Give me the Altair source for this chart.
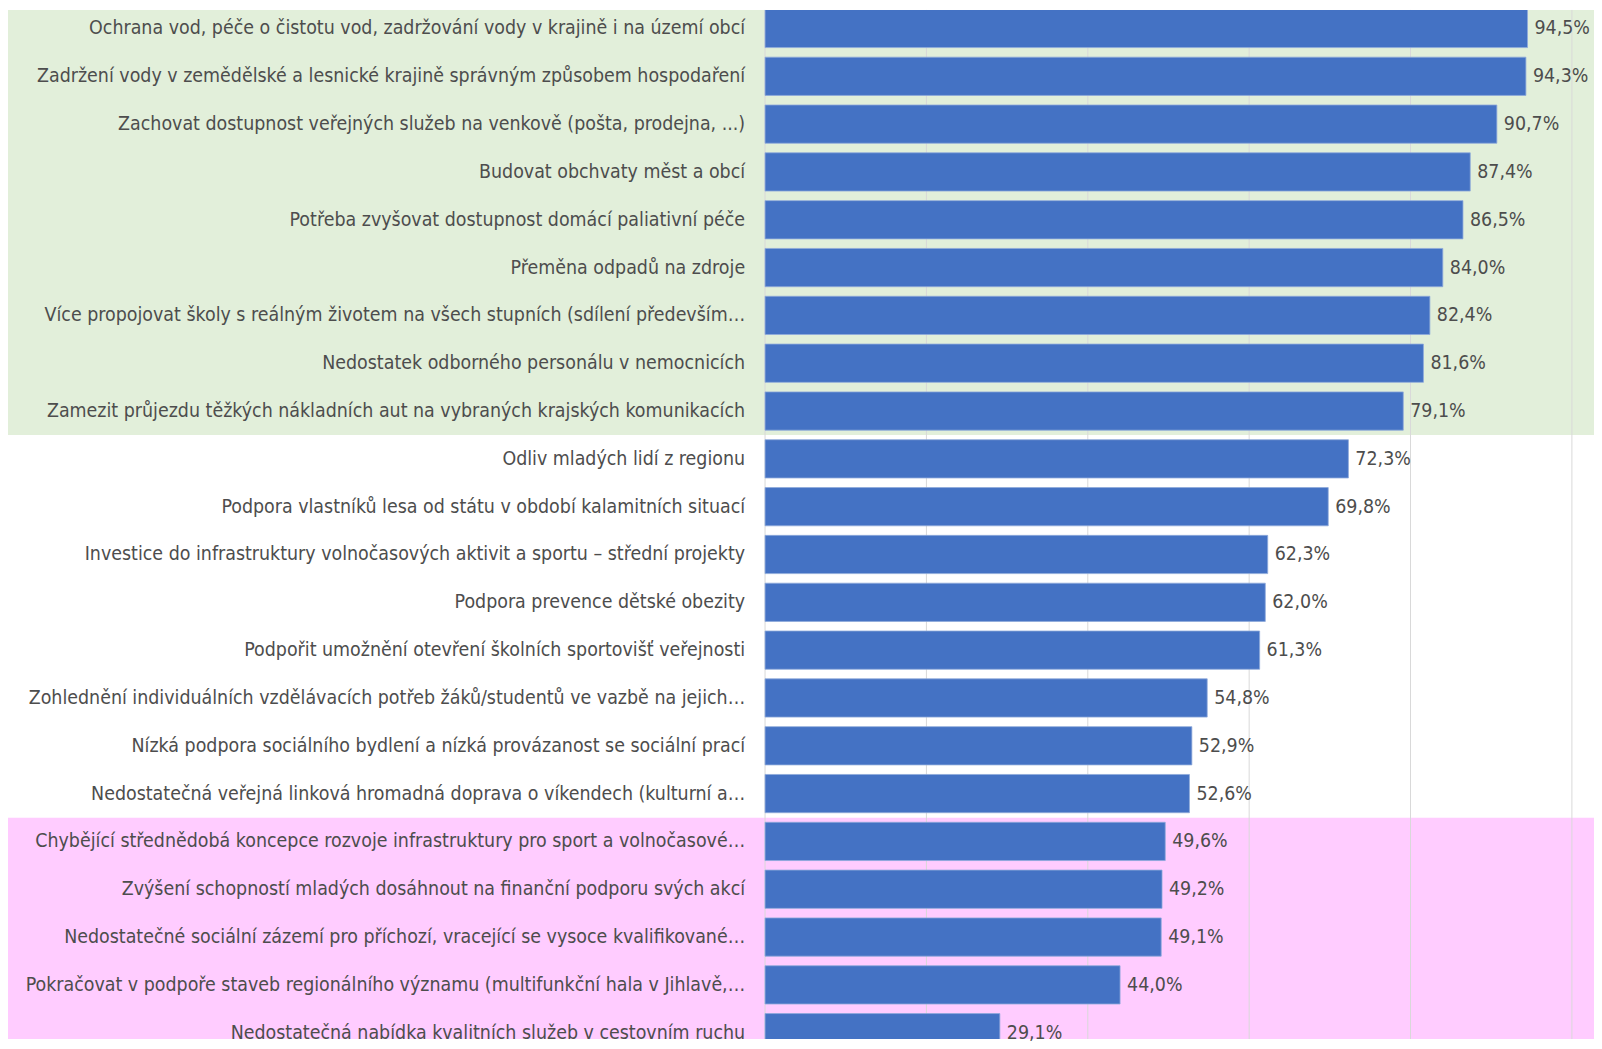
import altair as alt
import pandas as pd

categories = [
    "Ochrana vod, péče o čistotu vod, zadržování vody v krajině i na území obcí",
    "Zadržení vody v zemědělské a lesnické krajině správným způsobem hospodaření",
    "Zachovat dostupnost veřejných služeb na venkově (pošta, prodejna, ...)",
    "Budovat obchvaty měst a obcí",
    "Potřeba zvyšovat dostupnost domácí paliativní péče",
    "Přeměna odpadů na zdroje",
    "Více propojovat školy s reálným životem na všech stupních (sdílení především…",
    "Nedostatek odborného personálu v nemocnicích",
    "Zamezit průjezdu těžkých nákladních aut na vybraných krajských komunikacích",
    "Odliv mladých lidí z regionu",
    "Podpora vlastníků lesa od státu v období kalamitních situací",
    "Investice do infrastruktury volnočasových aktivit a sportu – střední projekty",
    "Podpora prevence dětské obezity",
    "Podpořit umožnění otevření školních sportovišť veřejnosti",
    "Zohlednění individuálních vzdělávacích potřeb žáků/studentů ve vazbě na jejich…",
    "Nízká podpora sociálního bydlení a nízká provázanost se sociální prací",
    "Nedostatečná veřejná linková hromadná doprava o víkendech (kulturní a…",
    "Chybějící střednědobá koncepce rozvoje infrastruktury pro sport a volnočasové…",
    "Zvýšení schopností mladých dosáhnout na finanční podporu svých akcí",
    "Nedostatečné sociální zázemí pro příchozí, vracející se vysoce kvalifikované…",
    "Pokračovat v podpoře staveb regionálního významu (multifunkční hala v Jihlavě,…",
    "Nedostatečná nabídka kvalitních služeb v cestovním ruchu",
]
values = [94.5, 94.3, 90.7, 87.4, 86.5, 84.0, 82.4, 81.6, 79.1,
          72.3, 69.8, 62.3, 62.0, 61.3, 54.8, 52.9, 52.6,
          49.6, 49.2, 49.1, 44.0, 29.1]
groups = ["top"] * 9 + ["mid"] * 8 + ["low"] * 5
group_names = ["top", "mid", "low"]
group_colors = ["#E2EFDA", "#FFFFFF", "#FFCCFF"]
grid_values = [0, 20, 40, 60, 80, 100]

FONT = "Liberation Sans Narrow, DejaVu Sans Condensed, Roboto Condensed, sans-serif"
FS = 19.5
TEXT_COLOR = "#4D4D4D"

df = pd.DataFrame({"cat": categories, "val": values, "grp": groups,
                   "idx": list(range(len(categories)))})
bg = (df.groupby("grp").agg(start=("idx", "min"), end=("idx", "max"))
      .reset_index())
grid_df = pd.DataFrame({"g": grid_values})

W = 1592
H = 1033
yscale = alt.Scale(domain=[21.133, -0.3875], nice=False, zero=False, padding=0)
# label area occupies the left 760 px; 0 % sits at the axis
xscale = alt.Scale(domain=[-93.83, 102.74], nice=False, zero=False, padding=0)
cscale = alt.Scale(domain=group_names, range=group_colors)

background = (alt.Chart(bg)
              .transform_calculate(y0="datum.start - 0.5", y1="datum.end + 0.5")
              .mark_rect(clip=True)
              .encode(x=alt.value(0), x2=alt.value("width"),
                      y=alt.Y("y0:Q", scale=yscale, axis=None), y2="y1:Q",
                      color=alt.Color("grp:N", scale=cscale, legend=None)))

grid = (alt.Chart(grid_df).mark_rule(color="#D9D9D9", strokeWidth=1)
        .encode(x=alt.X("g:Q", scale=xscale, axis=None),
                y=alt.value(0), y2=alt.value("height")))

bars = (alt.Chart(df)
        .transform_calculate(b0="datum.idx - 0.4", b1="datum.idx + 0.4", z="0")
        .mark_rect(color="#4472C4", stroke="#8EA9DB", strokeWidth=0.8, clip=True)
        .encode(x=alt.X("val:Q", scale=xscale, axis=None), x2="z:Q",
                y=alt.Y("b0:Q", scale=yscale, axis=None), y2="b1:Q"))

labels = (alt.Chart(df)
          .transform_calculate(z="0")
          .mark_text(align="right", baseline="middle", dx=-20, font=FONT,
                     fontSize=FS, color=TEXT_COLOR)
          .encode(x=alt.X("z:Q", scale=xscale, axis=None),
                  y=alt.Y("idx:Q", scale=yscale, axis=None),
                  text="cat:N"))

vals = (alt.Chart(df)
        .transform_calculate(lbl="replace(format(datum.val, '.1f'), '.', ',') + '%'")
        .mark_text(align="left", baseline="middle", dx=7, font=FONT,
                   fontSize=FS, color=TEXT_COLOR)
        .encode(x=alt.X("val:Q", scale=xscale, axis=None),
                y=alt.Y("idx:Q", scale=yscale, axis=None),
                text="lbl:N"))

chart = (alt.layer(background, grid, bars, labels, vals)
         .properties(width=W, height=H, padding=0,
                     autosize=alt.AutoSizeParams(type="none"))
         .configure_view(stroke=None))

chart.save("out.html", embed_options={"renderer": "svg", "actions": False})
